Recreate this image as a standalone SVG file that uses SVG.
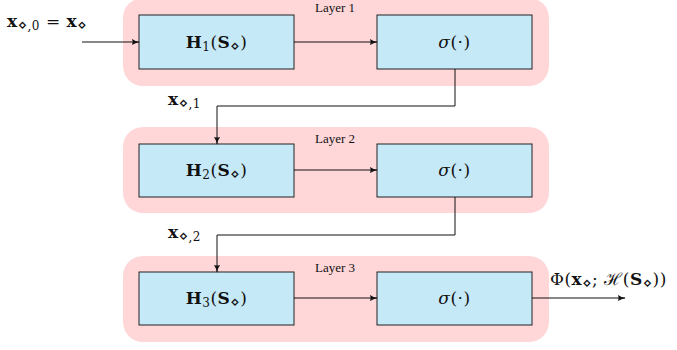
<svg xmlns="http://www.w3.org/2000/svg" width="677" height="350" viewBox="0 0 677 350">
<style>
.layer{fill:#ffd7d9;}
.box{fill:#c6e9f8;stroke:#222;stroke-width:1;}
.conn{fill:none;stroke:#111;stroke-width:1;}
.t{font-family:"DejaVu Serif","Liberation Serif",serif;fill:#111;}
.m{font-size:17px;letter-spacing:0.5px;}
.lbl{font-family:"Liberation Serif","DejaVu Serif",serif;font-size:13px;letter-spacing:0;}
.b{font-weight:bold;}
.s{font-size:12px;}
.d{font-family:"DejaVu Sans",sans-serif;font-size:15px;}
</style>
<defs>
<marker id="ah" viewBox="0 0 10 10" refX="9" refY="5" markerWidth="8" markerHeight="8" markerUnits="userSpaceOnUse" orient="auto">
<path d="M0,1 Q4,4 10,5 Q4,6 0,9 Q2,5 0,1 Z" fill="#111"/>
</marker>
</defs>

<g id="layer1">
<rect class="layer" x="123" y="-2" width="426" height="88" rx="20"/>
<text class="t lbl" x="335" y="12" text-anchor="middle">Layer 1</text>
</g>
<g id="layer2">
<rect class="layer" x="123" y="127" width="426" height="86" rx="20"/>
<text class="t lbl" x="335" y="143" text-anchor="middle">Layer 2</text>
</g>
<g id="layer3">
<rect class="layer" x="123" y="256" width="426" height="86" rx="20"/>
<text class="t lbl" x="335" y="272" text-anchor="middle">Layer 3</text>
</g>

<g id="H1">
<rect class="box" x="139" y="15" width="155" height="54"/>
<text class="t m" x="216.5" y="48" text-anchor="middle"><tspan class="b">H</tspan><tspan class="s" dy="3">1</tspan><tspan dy="-3">(</tspan><tspan class="b">S</tspan><tspan class="d" dy="3">⋄</tspan><tspan dy="-3">)</tspan></text>
</g>
<g id="sigma1">
<rect class="box" x="377" y="15" width="155" height="54"/>
<text class="t m" x="454.5" y="48" text-anchor="middle"><tspan font-style="italic">σ</tspan>(·)</text>
</g>
<g id="H2">
<rect class="box" x="139" y="144" width="155" height="53"/>
<text class="t m" x="216.5" y="176" text-anchor="middle"><tspan class="b">H</tspan><tspan class="s" dy="3">2</tspan><tspan dy="-3">(</tspan><tspan class="b">S</tspan><tspan class="d" dy="3">⋄</tspan><tspan dy="-3">)</tspan></text>
</g>
<g id="sigma2">
<rect class="box" x="377" y="144" width="155" height="53"/>
<text class="t m" x="454.5" y="176" text-anchor="middle"><tspan font-style="italic">σ</tspan>(·)</text>
</g>
<g id="H3">
<rect class="box" x="139" y="272" width="155" height="53"/>
<text class="t m" x="216.5" y="304" text-anchor="middle"><tspan class="b">H</tspan><tspan class="s" dy="3">3</tspan><tspan dy="-3">(</tspan><tspan class="b">S</tspan><tspan class="d" dy="3">⋄</tspan><tspan dy="-3">)</tspan></text>
</g>
<g id="sigma3">
<rect class="box" x="377" y="272" width="155" height="53"/>
<text class="t m" x="454.5" y="304" text-anchor="middle"><tspan font-style="italic">σ</tspan>(·)</text>
</g>

<g id="labels">
<text class="t m" x="7" y="27"><tspan class="b">x</tspan><tspan class="d" dy="3">⋄</tspan><tspan class="s">,0</tspan><tspan dy="-3"> = </tspan><tspan class="b">x</tspan><tspan class="d" dy="3">⋄</tspan></text>
<text class="t m" x="168" y="105"><tspan class="b">x</tspan><tspan class="d" dy="3">⋄</tspan><tspan class="s">,1</tspan></text>
<text class="t m" x="168" y="238"><tspan class="b">x</tspan><tspan class="d" dy="3">⋄</tspan><tspan class="s">,2</tspan></text>
<text class="t m" x="550" y="285">Φ(<tspan class="b">x</tspan><tspan class="d" dy="3">⋄</tspan><tspan dy="-3">; ℋ(</tspan><tspan class="b">S</tspan><tspan class="d" dy="3">⋄</tspan><tspan dy="-3">))</tspan></text>
</g>

<g id="connectors">
<path class="conn" d="M82,42 H139" marker-end="url(#ah)"/>
<path class="conn" d="M294,42 H377" marker-end="url(#ah)"/>
<path class="conn" d="M455,69 V106 H217 V144" marker-end="url(#ah)"/>
<path class="conn" d="M294,170 H377" marker-end="url(#ah)"/>
<path class="conn" d="M455,197 V235 H217 V272" marker-end="url(#ah)"/>
<path class="conn" d="M294,298 H377" marker-end="url(#ah)"/>
<path class="conn" d="M532,298 H625" marker-end="url(#ah)"/>
</g>
</svg>
